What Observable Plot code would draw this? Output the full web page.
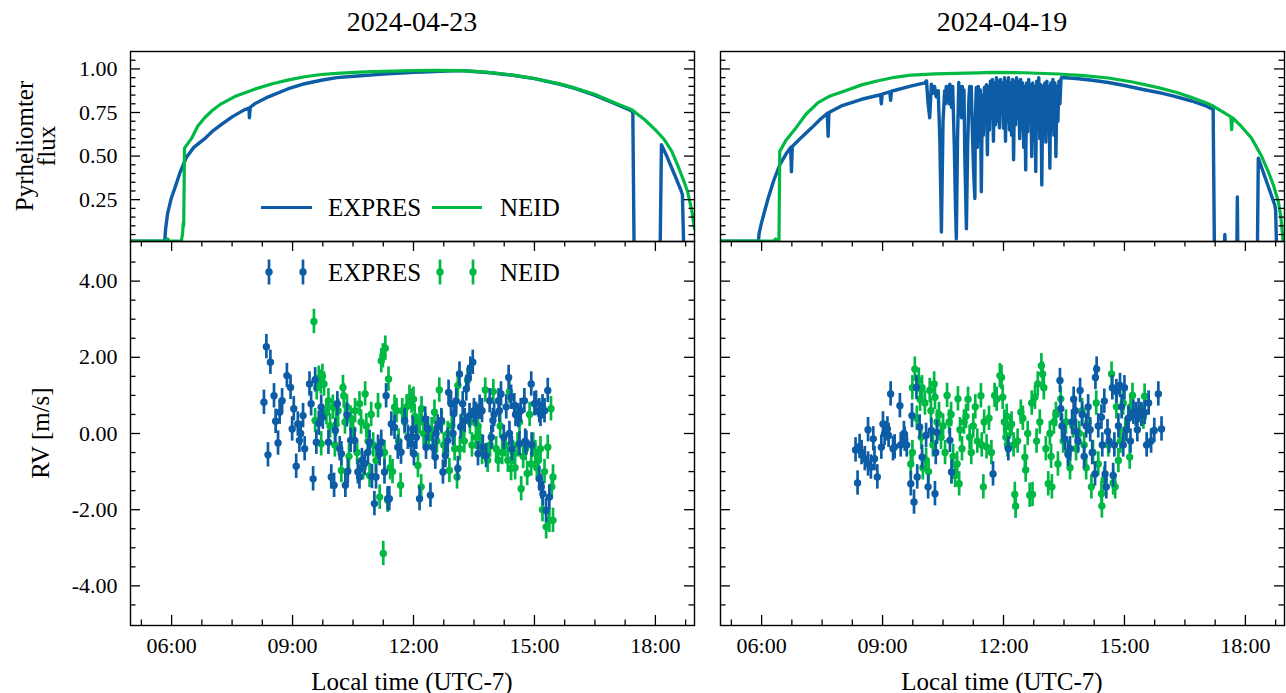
<!DOCTYPE html>
<html>
<head>
<meta charset="utf-8">
<script src="https://cdn.jsdelivr.net/npm/d3@7"></script>
<script src="https://cdn.jsdelivr.net/npm/@observablehq/plot@0.6"></script>
<style>
html,body{margin:0;padding:0;background:#fff;}
#fig{position:relative;width:1286px;height:693px;overflow:hidden;font-family:"Liberation Serif","Times New Roman",serif;color:#000;}
#fig .abs{position:absolute;white-space:nowrap;line-height:1;}
#fig svg{overflow:visible;}
</style>
</head>
<body>
<div id="fig"></div>
<script>
// ---------------- data ----------------
const titles = ["2024-04-23", "2024-04-19"];
const seriesNames = ["EXPRES", "NEID"];
const xLabel = "Local time (UTC-7)";
const fluxLabel = ["Pyrheliomter", "flux"];
const rvLabel = "RV [m/s]";

const xDomain = [4.98, 18.97];
const xMajor = [6, 9, 12, 15, 18];
const xMinor = [5.25, 6.75, 7.5, 8.25, 9.75, 10.5, 11.25, 12.75, 13.5, 14.25, 15.75, 16.5, 17.25, 18.75];
const fluxDomain = [0.01, 1.1];
const fluxMajor = [0.25, 0.5, 0.75, 1.0];
const fluxMinor = [0.05, 0.1, 0.15, 0.2, 0.3, 0.35, 0.4, 0.45, 0.55, 0.6, 0.65, 0.7, 0.8, 0.85, 0.9, 0.95, 1.05];
const rvDomain = [-5.04, 5.04];
const rvMajor = [-4, -2, 0, 2, 4];
const rvMinor = [-4.5, -3.5, -3, -2.5, -1.5, -1, -0.5, 0.5, 1, 1.5, 2.5, 3, 3.5, 4.5];

const errExpres = 0.32;
const errNeid = 0.32;

// pyrheliometer flux, 2024-04-23  [hour, flux]
const fluxExpres23 = [[4.98,0.012],[5.83,0.012],[5.85,0.08],[5.9,0.17],[5.99,0.257],[6.1,0.33],[6.2,0.40],[6.36,0.49],[6.55,0.55],[6.82,0.60],[7.0,0.64],[7.23,0.68],[7.5,0.725],[7.8,0.765],[7.92,0.775],[7.93,0.72],[7.95,0.78],[8.06,0.80],[8.4,0.84],[8.88,0.885],[9.3,0.915],[9.71,0.935],[10.1,0.95],[10.53,0.958],[11.0,0.966],[11.36,0.972],[11.7,0.976],[12.0,0.98],[12.4,0.984],[12.8,0.988],[13.18,0.99],[13.5,0.985],[13.9,0.978],[14.42,0.965],[15.0,0.944],[15.66,0.91],[16.0,0.888],[16.49,0.85],[17.0,0.80],[17.4,0.76],[17.44,0.75],[17.47,0.0],[18.12,0.0],[18.15,0.566],[18.3,0.49],[18.5,0.38],[18.64,0.30],[18.67,0.28],[18.70,0.0],[18.97,0.0]];
const fluxNeid23 = [[4.98,0.012],[5.85,0.012],[5.9,0.025],[5.95,0.012],[6.24,0.012],[6.27,0.05],[6.29,0.12],[6.30,0.10],[6.32,0.546],[6.49,0.60],[6.65,0.672],[6.82,0.72],[7.0,0.76],[7.23,0.80],[7.6,0.845],[8.06,0.884],[8.5,0.915],[8.88,0.936],[9.3,0.955],[9.71,0.968],[10.1,0.975],[10.54,0.98],[11.0,0.984],[11.5,0.987],[12.0,0.99],[12.5,0.992],[13.18,0.99],[13.8,0.982],[14.42,0.966],[15.0,0.945],[15.66,0.913],[16.0,0.89],[16.49,0.855],[17.0,0.805],[17.4,0.768],[17.73,0.71],[18.0,0.65],[18.22,0.595],[18.4,0.53],[18.55,0.45],[18.7,0.36],[18.8,0.295],[18.9,0.19],[18.97,0.083]];

// pyrheliometer flux, 2024-04-19
const fluxExpres19 = [[4.98,0.012],[5.92,0.012],[5.94,0.06],[6.0,0.12],[6.16,0.257],[6.3,0.36],[6.45,0.45],[6.6,0.51],[6.72,0.55],[6.74,0.41],[6.76,0.555],[7.0,0.61],[7.24,0.662],[7.45,0.71],[7.63,0.745],[7.65,0.614],[7.67,0.75],[8.0,0.79],[8.48,0.826],[8.95,0.852],[8.97,0.80],[8.99,0.855],[9.18,0.868],[9.2,0.82],[9.22,0.872],[9.72,0.903],[10.05,0.92],
[10.09,0.932],[10.13,0.80],[10.17,0.72],[10.21,0.913],[10.25,0.86],[10.29,0.90],[10.33,0.84],[10.38,0.875],[10.42,0.60],[10.46,0.064],[10.50,0.70],[10.54,0.875],[10.56,0.80],[10.58,0.90],[10.60,0.82],[10.62,0.90],[10.65,0.80],[10.67,0.913],[10.71,0.78],[10.74,0.90],[10.78,0.55],[10.81,0.20],[10.83,0.025],[10.86,0.60],[10.89,0.922],[10.91,0.78],[10.93,0.90],[10.96,0.72],[10.98,0.90],[11.0,0.80],[11.02,0.88],[11.04,0.50],[11.08,0.083],[11.11,0.55],[11.14,0.82],[11.16,0.90],[11.18,0.75],[11.20,0.90],[11.22,0.70],[11.26,0.40],[11.29,0.257],
[11.300,0.70],[11.325,0.894],[11.350,0.55],[11.375,0.90],[11.400,0.70],[11.425,0.88],[11.450,0.295],[11.475,0.85],[11.500,0.62],[11.525,0.894],[11.550,0.70],[11.575,0.91],[11.600,0.508],[11.625,0.90],[11.650,0.65],[11.675,0.93],[11.700,0.72],[11.725,0.94],[11.750,0.585],[11.775,0.92],[11.800,0.68],[11.825,0.95],[11.850,0.70],[11.875,0.93],[11.900,0.662],[11.925,0.94],[11.950,0.75],[11.975,0.92],[12.000,0.66],[12.025,0.95],[12.050,0.585],[12.075,0.93],[12.100,0.70],[12.125,0.95],[12.150,0.65],[12.175,0.92],[12.200,0.62],[12.225,0.94],[12.250,0.479],[12.275,0.93],[12.300,0.68],[12.325,0.95],[12.350,0.72],[12.375,0.93],[12.400,0.60],[12.425,0.94],[12.450,0.66],[12.475,0.92],[12.500,0.55],[12.525,0.90],[12.550,0.421],[12.575,0.92],[12.600,0.64],[12.625,0.94],[12.650,0.70],[12.675,0.91],[12.700,0.498],[12.725,0.92],[12.750,0.62],[12.775,0.90],[12.800,0.411],[12.825,0.93],[12.850,0.66],[12.875,0.95],[12.900,0.60],[12.925,0.91],[12.950,0.334],[12.975,0.90],[13.000,0.66],[13.025,0.92],[13.050,0.58],[13.075,0.93],[13.100,0.70],[13.125,0.90],[13.150,0.43],[13.175,0.92],[13.200,0.66],[13.225,0.94],[13.250,0.62],[13.275,0.92],[13.300,0.498],[13.325,0.90],[13.350,0.70],[13.375,0.93],[13.400,0.80],[13.425,0.94],[13.44,0.951],
[13.8,0.945],[14.2,0.935],[14.6,0.922],[15.0,0.905],[15.4,0.885],[15.84,0.865],[16.2,0.845],[16.67,0.816],[17.0,0.79],[17.2,0.768],[17.23,0.0],[17.48,0.0],[17.49,0.05],[17.5,0.0],[17.79,0.0],[17.8,0.266],[17.81,0.0],[18.3,0.0],[18.32,0.488],[18.5,0.37],[18.73,0.218],[18.75,0.19],[18.77,0.0],[18.97,0.0]];
const fluxNeid19 = [[4.98,0.012],[6.3,0.012],[6.35,0.025],[6.4,0.012],[6.43,0.012],[6.45,0.527],[6.6,0.59],[6.82,0.652],[7.1,0.74],[7.4,0.807],[7.7,0.845],[8.06,0.874],[8.5,0.91],[8.89,0.932],[9.3,0.952],[9.72,0.965],[10.3,0.972],[11.37,0.977],[11.7,0.98],[12.5,0.978],[13.36,0.971],[14.0,0.962],[14.6,0.948],[15.2,0.925],[15.84,0.893],[16.3,0.865],[16.67,0.836],[17.0,0.808],[17.2,0.787],[17.5,0.745],[17.64,0.725],[17.66,0.652],[17.68,0.72],[17.9,0.67],[18.15,0.604],[18.4,0.5],[18.57,0.41],[18.7,0.33],[18.82,0.237],[18.88,0.15],[18.94,0.0],[18.97,0.0]];

// radial velocities, 2024-04-23  [hour, m/s]
const rvExpres23 = [[8.29,0.82],[8.35,2.28],[8.39,-0.56],[8.45,1.87],[8.54,0.99],[8.58,0.32],[8.64,-0.25],[8.68,0.56],[8.74,0.86],[8.86,1.52],[8.95,1.21],[8.99,0.12],[9.03,0.65],[9.09,-0.86],[9.13,0.25],[9.17,-0.18],[9.2,0.0],[9.26,0.47],[9.3,-0.4],[9.42,1.3],[9.46,0.78],[9.51,-1.19],[9.56,1.41],[9.59,-0.23],[9.65,0.27],[9.71,0.69],[9.75,0.43],[9.89,-0.23],[9.96,-1.14],[10.03,-1.36],[10.06,0.08],[10.11,0.78],[10.17,-0.4],[10.21,-0.53],[10.31,-1.36],[10.35,0.49],[10.37,-0.99],[10.44,-0.18],[10.54,-0.18],[10.62,-1.01],[10.66,-1.14],[10.72,-0.71],[10.79,-0.79],[10.87,-0.49],[10.91,-0.23],[10.97,-1.13],[11.03,-1.84],[11.07,-1.14],[11.12,-0.36],[11.16,-0.53],[11.2,-0.23],[11.28,-1.01],[11.32,0.99],[11.36,-1.71],[11.4,-1.71],[11.45,0.25],[11.53,0.16],[11.61,-0.36],[11.69,-0.49],[11.78,0.34],[11.86,-0.1],[11.94,-0.27],[11.98,0.12],[12.01,-0.53],[12.07,-0.1],[12.15,-1.71],[12.29,0.38],[12.31,-0.36],[12.36,0.12],[12.42,-1.62],[12.48,-0.36],[12.54,-0.62],[12.56,0.0],[12.6,0.17],[12.69,0.34],[12.73,-1.01],[12.79,-0.58],[12.85,-0.18],[12.87,1.08],[12.93,0.78],[12.98,0.0],[13.0,0.52],[13.06,0.86],[13.1,-0.92],[13.14,1.56],[13.17,0.17],[13.22,0.78],[13.27,0.34],[13.31,1.17],[13.36,1.47],[13.39,0.47],[13.41,1.69],[13.47,1.87],[13.5,0.6],[13.55,0.5],[13.6,-0.53],[13.64,0.69],[13.7,0.6],[13.72,-0.36],[13.8,-0.58],[13.89,0.86],[13.93,-0.1],[13.97,0.34],[14.0,0.5],[14.11,0.86],[14.13,0.6],[14.17,1.04],[14.24,-0.1],[14.3,0.7],[14.36,1.47],[14.38,0.0],[14.42,0.95],[14.44,-0.4],[14.5,0.73],[14.53,0.5],[14.6,0.47],[14.63,-0.27],[14.66,0.6],[14.75,0.86],[14.77,-0.2],[14.8,-0.25],[14.92,1.3],[14.93,-0.3],[15.0,0.78],[15.04,0.8],[15.12,0.6],[15.12,-1.19],[15.15,0.5],[15.17,-1.4],[15.2,0.7],[15.21,-1.58],[15.25,0.6],[15.29,-2.02],[15.33,1.13],[15.37,-1.67]];
const rvNeid23 = [[9.53,2.94],[9.56,0.34],[9.6,1.2],[9.65,1.45],[9.7,1.35],[9.71,-0.27],[9.74,1.5],[9.78,1.3],[9.84,0.55],[9.89,0.86],[9.93,0.2],[10.0,0.69],[10.05,-0.3],[10.08,0.24],[10.13,0.6],[10.21,-0.97],[10.25,1.21],[10.27,0.99],[10.3,0.3],[10.35,0.7],[10.4,-0.6],[10.44,0.4],[10.5,0.1],[10.55,0.6],[10.6,-0.5],[10.66,0.78],[10.7,0.3],[10.75,-0.9],[10.8,1.04],[10.83,0.2],[10.87,-0.2],[10.91,-1.1],[10.95,0.5],[11.0,-0.3],[11.07,-0.71],[11.12,0.73],[11.16,-1.67],[11.2,1.91],[11.24,2.04],[11.25,-3.15],[11.28,-0.5],[11.3,2.24],[11.36,-1.75],[11.38,1.43],[11.42,-0.9],[11.48,-1.0],[11.53,0.69],[11.58,0.6],[11.63,-0.2],[11.68,-1.36],[11.72,0.6],[11.78,0.3],[11.83,0.7],[11.9,0.95],[11.95,0.85],[12.0,0.9],[12.03,0.45],[12.07,0.1],[12.11,-0.84],[12.15,0.3],[12.19,-1.4],[12.2,0.65],[12.25,0.0],[12.3,0.2],[12.38,-0.1],[12.45,0.1],[12.52,0.56],[12.58,-0.2],[12.64,1.14],[12.7,0.3],[12.75,-0.3],[12.8,-0.5],[12.85,0.0],[12.89,-0.97],[12.95,0.2],[13.02,-0.4],[13.08,-1.14],[13.1,1.26],[13.15,-0.4],[13.2,0.2],[13.26,-0.2],[13.34,1.4],[13.4,0.3],[13.45,-0.3],[13.5,0.5],[13.55,-0.1],[13.6,0.2],[13.65,-0.1],[13.7,-0.5],[13.78,1.14],[13.84,-0.7],[13.9,-0.3],[13.98,1.1],[14.05,-0.4],[14.1,-0.7],[14.15,0.2],[14.2,-0.5],[14.28,-0.3],[14.34,-0.7],[14.38,1.1],[14.42,-0.92],[14.47,-0.5],[14.52,-0.9],[14.58,-0.3],[14.63,0.3],[14.67,-1.45],[14.72,-0.6],[14.78,-0.4],[14.82,-1.05],[14.88,0.5],[14.92,-0.8],[14.97,-0.3],[15.02,-0.5],[15.06,-0.9],[15.1,-0.7],[15.15,-0.4],[15.2,-2.0],[15.25,-1.0],[15.29,-2.45],[15.33,-0.36],[15.37,-2.28],[15.41,0.65],[15.43,-1.4],[15.46,-2.28],[15.46,-1.14]];

// radial velocities, 2024-04-19
const rvExpres19 = [[8.33,-0.43],[8.38,-1.3],[8.43,-0.34],[8.48,-0.5],[8.56,-0.66],[8.64,0.1],[8.64,-0.8],[8.71,-0.88],[8.77,-0.14],[8.8,-0.66],[8.87,-1.14],[8.97,-0.36],[9.01,0.25],[9.05,0.0],[9.12,0.12],[9.15,-0.05],[9.2,1.04],[9.26,-0.4],[9.3,-0.35],[9.43,0.73],[9.45,-0.3],[9.53,0.0],[9.55,-0.15],[9.6,-0.3],[9.7,-1.32],[9.73,0.47],[9.78,-1.8],[9.84,1.21],[9.86,-1.14],[9.92,0.17],[9.98,-0.62],[10.08,-0.05],[10.13,-1.4],[10.21,0.08],[10.3,-1.58],[10.32,-0.5],[10.35,0.03],[10.67,-0.18],[10.71,-1.01],[11.74,-1.06],[12.12,-0.4],[13.4,1.39],[13.42,0.65],[13.45,0.2],[13.52,-0.14],[13.6,-0.55],[13.65,-0.4],[13.7,0.3],[13.74,0.9],[13.78,0.6],[13.8,0.05],[13.85,-0.2],[13.9,1.13],[13.95,0.5],[14.0,-0.6],[14.05,0.2],[14.1,0.7],[14.15,0.1],[14.2,-0.5],[14.27,-1.06],[14.28,1.47],[14.31,1.69],[14.35,0.2],[14.43,0.43],[14.45,-0.3],[14.5,0.85],[14.52,-1.06],[14.55,-1.4],[14.58,0.05],[14.62,-0.2],[14.7,1.2],[14.72,-1.1],[14.75,-0.3],[14.8,1.1],[14.85,0.2],[14.89,1.26],[14.93,0.7],[14.97,-0.3],[15.0,1.2],[15.05,0.1],[15.1,0.4],[15.15,-0.2],[15.22,0.56],[15.28,0.5],[15.32,0.1],[15.35,0.6],[15.42,0.5],[15.5,0.55],[15.55,-0.3],[15.6,0.8],[15.66,-0.2],[15.74,0.08],[15.84,1.04],[15.92,0.12]];
const rvNeid19 = [[9.7,-0.8],[9.74,1.2],[9.74,-0.5],[9.8,1.69],[9.85,0.4],[9.9,1.4],[9.93,0.9],[9.96,-0.1],[9.98,1.2],[10.0,-0.9],[10.05,0.8],[10.08,-0.7],[10.14,-1.0],[10.17,1.13],[10.2,0.6],[10.25,-0.3],[10.28,1.3],[10.3,0.95],[10.35,0.3],[10.4,0.5],[10.45,-0.1],[10.5,0.2],[10.55,-0.5],[10.6,1.0],[10.65,0.3],[10.7,0.5],[10.75,-0.6],[10.8,-1.1],[10.85,-0.8],[10.87,0.91],[10.9,-1.32],[10.92,0.1],[10.97,-0.4],[11.02,0.3],[11.07,0.45],[11.12,0.9],[11.16,-0.1],[11.2,-0.5],[11.25,0.2],[11.3,0.7],[11.35,-0.2],[11.44,0.99],[11.46,-0.3],[11.5,-1.4],[11.52,0.3],[11.58,-0.35],[11.64,0.4],[11.7,-0.5],[11.78,1.0],[11.83,0.9],[11.91,1.52],[11.95,1.47],[11.98,0.95],[12.02,0.3],[12.06,-0.1],[12.08,0.45],[12.1,-0.3],[12.16,0.17],[12.2,0.25],[12.25,-0.3],[12.28,-1.6],[12.3,-1.91],[12.35,-0.2],[12.43,0.56],[12.48,0.4],[12.53,-0.62],[12.55,-0.96],[12.6,0.0],[12.65,-1.62],[12.7,0.8],[12.72,-1.6],[12.78,0.95],[12.82,-0.2],[12.85,1.3],[12.9,0.3],[12.94,1.78],[12.97,1.56],[13.0,1.2],[13.05,-0.4],[13.11,-1.32],[13.15,0.0],[13.18,-0.6],[13.2,-1.4],[13.25,0.3],[13.3,0.5],[13.35,-0.8],[13.42,0.91],[13.48,-0.2],[13.55,0.3],[13.6,-0.5],[13.65,-0.9],[13.72,0.2],[13.8,-0.4],[13.88,0.0],[13.95,0.6],[14.0,-0.3],[14.05,-0.9],[14.1,0.3],[14.18,-1.4],[14.22,-0.5],[14.3,0.8],[14.35,-0.8],[14.43,-1.58],[14.44,-1.9],[14.5,-1.2],[14.6,-0.3],[14.68,1.56],[14.72,-1.3],[14.77,-1.4],[14.8,0.7],[14.85,-0.71],[14.9,-0.2],[14.97,0.8],[15.02,0.1],[15.1,0.4],[15.13,-0.62],[15.15,0.7],[15.2,1.0],[15.47,0.43],[15.5,0.98]];

// ---------------- drawing ----------------
const BLUE = "#0C5DA5", GREEN = "#00B945";
const PW = 564, TH = 190, BH = 384;
const MAJ = 10, MIN = 5.5;
const fig = document.getElementById("fig");
const toFlux = a => a.map(([t, f]) => ({t, f}));
const toRV = a => a.map(([t, v]) => ({t, v}));
const hhmm = d => String(d).padStart(2, "0") + ":00";

function panel({x0, y0, innerH, yDomain, yMajor, yMinor, showY, showX, topTicks, content}) {
  const mL = showY ? 130 : 6, mR = 6, mT = 10, mB = showX ? 70 : 10;
  const W = mL + PW + mR, H = mT + innerH + mB;
  const ts = {stroke: "black", strokeWidth: 1.3};
  const marks = [...content];
  marks.push(Plot.tickY(yMajor, {y: d => d, insetRight: PW - MAJ, ...ts}));
  marks.push(Plot.tickY(yMinor, {y: d => d, insetRight: PW - MIN, ...ts}));
  marks.push(Plot.tickY(yMajor, {y: d => d, insetLeft: PW - MAJ, ...ts}));
  marks.push(Plot.tickY(yMinor, {y: d => d, insetLeft: PW - MIN, ...ts}));
  if (showX) {
    marks.push(Plot.tickX(xMajor, {x: d => d, insetTop: innerH - MAJ, ...ts}));
    marks.push(Plot.tickX(xMinor, {x: d => d, insetTop: innerH - MIN, ...ts}));
  }
  if (topTicks) {
    marks.push(Plot.tickX(xMajor, {x: d => d, insetBottom: innerH - MAJ, ...ts}));
    marks.push(Plot.tickX(xMinor, {x: d => d, insetBottom: innerH - MIN, ...ts}));
  }
  marks.push(Plot.frame({stroke: "black", strokeWidth: 1.4}));
  if (showY) marks.push(Plot.axisY({ticks: yMajor, tickSize: 0, tickPadding: 13, tickFormat: d => d.toFixed(2), fontSize: 22, label: null}));
  if (showX) marks.push(Plot.axisX({ticks: xMajor, tickSize: 0, tickPadding: 12, tickFormat: hhmm, fontSize: 22, label: null}));
  const svg = Plot.plot({
    width: W, height: H,
    marginLeft: mL, marginRight: mR, marginTop: mT, marginBottom: mB,
    x: {domain: xDomain, axis: showX ? undefined : null},
    y: {domain: yDomain, axis: showY ? undefined : null},
    style: {fontFamily: '"Liberation Serif", serif', fontSize: "22px", background: "transparent", color: "black", overflow: "visible"},
    marks
  });
  svg.style.position = "absolute";
  svg.style.left = (x0 - mL) + "px";
  svg.style.top = (y0 - mT) + "px";
  fig.appendChild(svg);
}

function fluxMarks(exp, neid) {
  return [
    Plot.line(toFlux(exp), {x: "t", y: "f", stroke: BLUE, strokeWidth: 3.4, clip: true}),
    Plot.line(toFlux(neid), {x: "t", y: "f", stroke: GREEN, strokeWidth: 3.2, clip: true})
  ];
}
function rvMarks(exp, neid) {
  const e = toRV(exp), n = toRV(neid);
  return [
    Plot.ruleX(n, {x: "t", y1: d => d.v - errNeid, y2: d => d.v + errNeid, stroke: GREEN, strokeWidth: 2.7, clip: true}),
    Plot.dot(n, {x: "t", y: "v", r: 3.7, fill: GREEN, clip: true}),
    Plot.ruleX(e, {x: "t", y1: d => d.v - errExpres, y2: d => d.v + errExpres, stroke: BLUE, strokeWidth: 2.7, clip: true}),
    Plot.dot(e, {x: "t", y: "v", r: 3.7, fill: BLUE, clip: true})
  ];
}

const LX = [130, 720], TOP = 51, MID = 241;
panel({x0: LX[0], y0: TOP, innerH: TH, yDomain: fluxDomain, yMajor: fluxMajor, yMinor: fluxMinor, showY: true, showX: false, topTicks: false, content: fluxMarks(fluxExpres23, fluxNeid23)});
panel({x0: LX[1], y0: TOP, innerH: TH, yDomain: fluxDomain, yMajor: fluxMajor, yMinor: fluxMinor, showY: false, showX: false, topTicks: false, content: fluxMarks(fluxExpres19, fluxNeid19)});
panel({x0: LX[0], y0: MID, innerH: BH, yDomain: rvDomain, yMajor: rvMajor, yMinor: rvMinor, showY: true, showX: true, topTicks: true, content: rvMarks(rvExpres23, rvNeid23)});
panel({x0: LX[1], y0: MID, innerH: BH, yDomain: rvDomain, yMajor: rvMajor, yMinor: rvMinor, showY: false, showX: true, topTicks: true, content: rvMarks(rvExpres19, rvNeid19)});

// ---------------- text & legends ----------------
function label(text, cx, cy, size, rotate) {
  const d = document.createElement("div");
  d.className = "abs";
  d.textContent = text;
  d.style.left = cx + "px";
  d.style.top = cy + "px";
  d.style.fontSize = size + "px";
  d.style.transform = "translate(-50%,-50%)" + (rotate ? " rotate(-90deg)" : "");
  fig.appendChild(d);
}
const cxs = [LX[0] + PW / 2, LX[1] + PW / 2];
titles.forEach((t, i) => label(t, cxs[i], 22, 28));
cxs.forEach(cx => label(xLabel, cx, 681, 25));
label(fluxLabel[0], 24, 146, 25, true);
label(fluxLabel[1], 46, 146, 25, true);
label(rvLabel, 40, 433, 25, true);

function legendText(text, left, cy) {
  const d = document.createElement("div");
  d.className = "abs";
  d.textContent = text;
  d.style.left = left + "px";
  d.style.top = cy + "px";
  d.style.fontSize = "25px";
  d.style.transform = "translate(0,-50%)";
  fig.appendChild(d);
}
function legendLine(x1, x2, cy, color) {
  const d = document.createElement("div");
  d.className = "abs";
  d.style.left = x1 + "px"; d.style.top = (cy - 1.5) + "px";
  d.style.width = (x2 - x1) + "px"; d.style.height = "3px";
  d.style.background = color;
  fig.appendChild(d);
}
function legendErr(cx, cy, color) {
  const ns = "http://www.w3.org/2000/svg";
  const s = document.createElementNS(ns, "svg");
  s.setAttribute("width", 10); s.setAttribute("height", 28);
  s.style.position = "absolute"; s.style.left = (cx - 5) + "px"; s.style.top = (cy - 14) + "px";
  s.innerHTML = `<line x1="5" x2="5" y1="1.5" y2="26.5" stroke="${color}" stroke-width="2.7"/><circle cx="5" cy="14" r="3.7" fill="${color}"/>`;
  fig.appendChild(s);
}
// top-left legend (lines)
legendLine(261, 312, 207, BLUE);
legendText(seriesNames[0], 328, 207);
legendLine(432, 482, 207, GREEN);
legendText(seriesNames[1], 500, 207);
// bottom-left legend (error bars)
legendErr(269, 272, BLUE); legendErr(303, 272, BLUE);
legendText(seriesNames[0], 328, 272);
legendErr(440, 272, GREEN); legendErr(473, 272, GREEN);
legendText(seriesNames[1], 500, 272);
</script>
</body>
</html>
